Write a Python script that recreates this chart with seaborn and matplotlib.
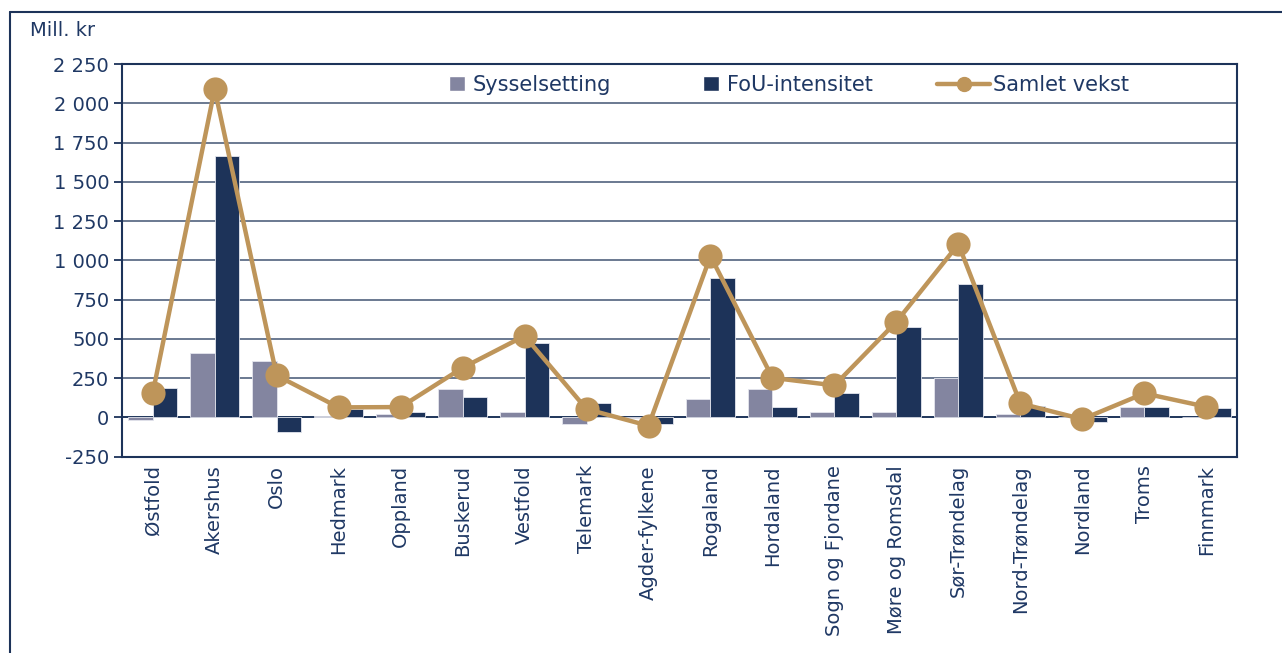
import pandas as pd
import matplotlib.pyplot as plt
import seaborn as sns
from matplotlib.lines import Line2D
from matplotlib.patches import Patch
from matplotlib.ticker import FuncFormatter, MultipleLocator

# --- data (mill. kr) ---------------------------------------------------------
fylker = [
    "Østfold", "Akershus", "Oslo", "Hedmark", "Oppland", "Buskerud",
    "Vestfold", "Telemark", "Agder-fylkene", "Rogaland", "Hordaland",
    "Sogn og Fjordane", "Møre og Romsdal", "Sør-Trøndelag", "Nord-Trøndelag",
    "Nordland", "Troms", "Finnmark",
]
sysselsetting = [-15, 410, 360, 8, 19, 183, 32, -40, -6, 118, 183, 32, 32, 248, 19, 4, 68, 4]
fou_intensitet = [185, 1663, -94, 51, 32, 131, 473, 93, -43, 889, 68, 157, 573, 851, 72, -30, 68, 57]
samlet_vekst = [153, 2090, 267, 64, 66, 316, 519, 53, -53, 1027, 252, 204, 609, 1103, 89, -11, 153, 68]

y_ticks_step = 250
y_limits = (-250, 2250)

# --- colours -----------------------------------------------------------------
NAVY = "#1D3359"
GREY = "#8385A0"
TAN = "#BE955A"
TEXT = "#1F3864"
GRID = "#5F6E88"

sns.set_theme(style="white")
plt.rcParams["font.family"] = ["DejaVu Sans"]

bars = pd.DataFrame({
    "fylke": fylker,
    "Sysselsetting": sysselsetting,
    "FoU-intensitet": fou_intensitet,
}).melt(id_vars="fylke", var_name="komponent", value_name="mill_kr")

W, H = 1282, 653
fig = plt.figure(figsize=(W / 100, H / 100), dpi=100)
ax = fig.add_axes([121.7 / W, 1 - 456.7 / H, (1237.3 - 121.7) / W, (456.7 - 64) / H])

sns.barplot(data=bars, x="fylke", y="mill_kr", hue="komponent",
            palette=[GREY, NAVY], saturation=1, width=0.8, ax=ax, legend=False,
            edgecolor="#E4E6EE", linewidth=0.6, zorder=2)
sns.pointplot(x=fylker, y=samlet_vekst, color=TAN, ax=ax,
              markersize=15, linewidth=3.2, zorder=5)

ax.set_xlim(-0.5, len(fylker) - 0.5)
ax.set_ylim(*y_limits)
ax.yaxis.set_major_locator(MultipleLocator(y_ticks_step))
ax.yaxis.set_major_formatter(FuncFormatter(lambda v, _: f"{v:,.0f}".replace(",", " ")))
ax.grid(axis="y", color=GRID, linewidth=1.3, zorder=0)
ax.set_axisbelow(True)
ax.axhline(0, color=NAVY, linewidth=1.3, zorder=1)
ax.set_xlabel("")
ax.set_ylabel("")

for side in ax.spines.values():
    side.set_color(NAVY)
    side.set_linewidth(1.5)

ax.tick_params(axis="y", left=True, length=6, width=1.3, color=NAVY,
               labelsize=14, labelcolor=TEXT, pad=3)
ax.tick_params(axis="x", bottom=False, length=0, labelsize=14,
               labelcolor=TEXT, pad=6, rotation=90)

# legends: bars and line handled separately to get the spacing right
bar_handles = [Patch(facecolor=GREY, label="Sysselsetting"),
               Patch(facecolor=NAVY, label="FoU-intensitet")]
leg1 = ax.legend(handles=bar_handles, loc="center left",
                 bbox_to_anchor=(449 / W, 1 - 85 / H), bbox_transform=fig.transFigure,
                 ncol=2, frameon=False, fontsize=15, handlelength=0.75, handleheight=0.75,
                 handletextpad=0.4, columnspacing=4.4, borderpad=0, borderaxespad=0,
                 labelcolor=TEXT)
ax.add_artist(leg1)
line_handle = [Line2D([], [], color=TAN, linewidth=3.2, marker="o", markersize=10,
                      label="Samlet vekst")]
ax.legend(handles=line_handle, loc="center left",
          bbox_to_anchor=(937 / W, 1 - 85 / H), bbox_transform=fig.transFigure,
          frameon=False, fontsize=15, handlelength=2.55, handletextpad=0.15,
          borderpad=0, borderaxespad=0, labelcolor=TEXT)

fig.text(30 / W, 1 - 31 / H, "Mill. kr", fontsize=14, color=TEXT, va="center", ha="left")

# outer chart frame (top and left visible)
fig.add_artist(Line2D([10 / W, 1], [1 - 12 / H, 1 - 12 / H], transform=fig.transFigure,
                      color=NAVY, linewidth=1.5))
fig.add_artist(Line2D([10 / W, 10 / W], [0, 1 - 12 / H], transform=fig.transFigure,
                      color=NAVY, linewidth=1.5))

fig.savefig("out.png", dpi=100)
